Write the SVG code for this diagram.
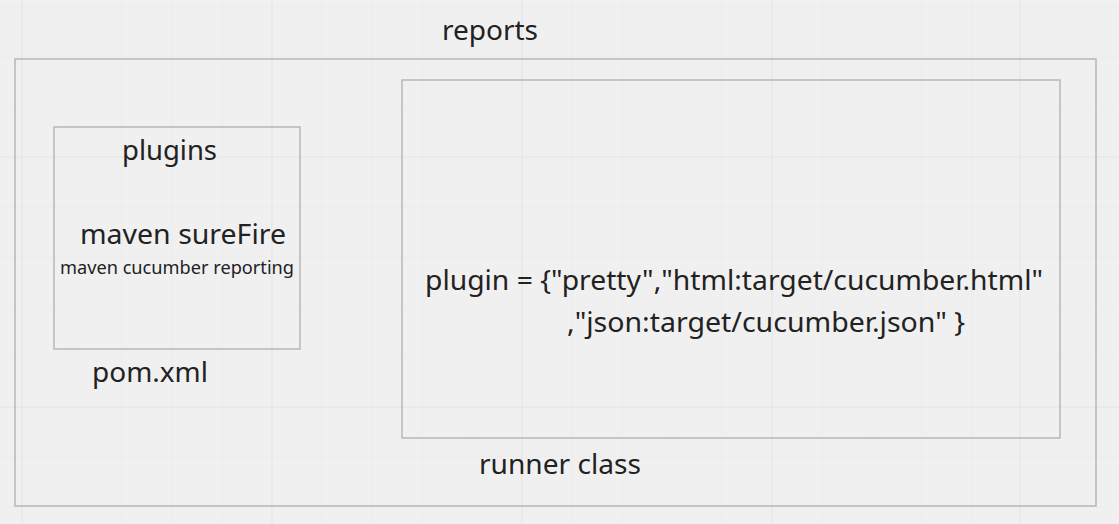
<svg xmlns="http://www.w3.org/2000/svg" width="1119" height="524" viewBox="0 0 1119 524">
  <style>
    .box { fill: none; stroke: #b7b7b7; stroke-width: 1.5; }
    .t { font-family: "Noto Sans", "Open Sans", "DejaVu Sans", sans-serif; fill: #222222; }
    .big { font-size: 28px; }
    .small { font-size: 18px; }
    .grid-major { stroke: #e4e4e4; stroke-width: 1; }
    .grid-minor { stroke: #ececec; stroke-width: 1; }
  </style>
  <rect x="0" y="0" width="1119" height="524" fill="#f1f0f1"/>
  <g id="grid">
    <path class="grid-minor" d="M72 0V524M122 0V524M172 0V524M222 0V524M322 0V524M372 0V524M422 0V524M472 0V524M572 0V524M622 0V524M672 0V524M722 0V524M822 0V524M872 0V524M922 0V524M972 0V524M1072 0V524M0 7H1119M0 57H1119M0 107H1119M0 207H1119M0 257H1119M0 307H1119M0 357H1119M0 457H1119M0 507H1119"/>
    <path class="grid-major" d="M22 0V524M272 0V524M522 0V524M772 0V524M1020 0V524M0 157H1119M0 407H1119"/>
  </g>
  <g id="connectors"/>
  <g id="reports">
    <rect class="box" x="15" y="59" width="1081" height="447"/>
    <text class="t big" x="442" y="40" textLength="96" lengthAdjust="spacingAndGlyphs">reports</text>
  </g>
  <g id="plugins">
    <rect class="box" x="54" y="127" width="246" height="222"/>
    <text class="t big" x="122" y="160" textLength="95" lengthAdjust="spacingAndGlyphs">plugins</text>
    <text class="t big" x="80" y="244" textLength="206" lengthAdjust="spacingAndGlyphs">maven sureFire</text>
    <text class="t small" x="60" y="274" textLength="234" lengthAdjust="spacingAndGlyphs">maven cucumber reporting</text>
    <text class="t big" x="92" y="382" textLength="116" lengthAdjust="spacingAndGlyphs">pom.xml</text>
  </g>
  <g id="runner">
    <rect class="box" x="402" y="80" width="658" height="358"/>
    <text class="t big" x="425" y="290" textLength="618" lengthAdjust="spacingAndGlyphs">plugin = {"pretty","html:target/cucumber.html"</text>
    <text class="t big" x="567" y="332" textLength="398" lengthAdjust="spacingAndGlyphs">,"json:target/cucumber.json" }</text>
    <text class="t big" x="479" y="474" textLength="162" lengthAdjust="spacingAndGlyphs">runner class</text>
  </g>
</svg>
